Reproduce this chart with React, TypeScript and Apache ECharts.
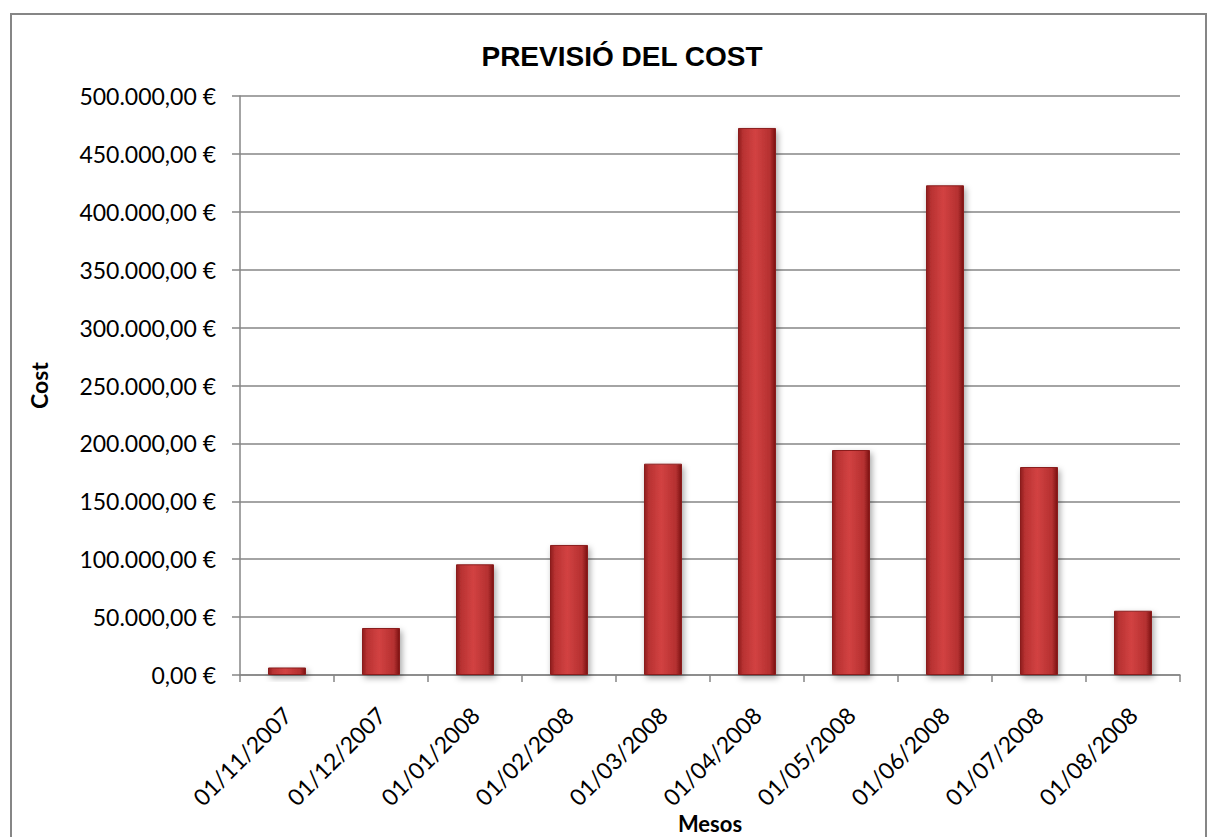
import React, { useEffect, useRef } from "react";
import * as echarts from "echarts";

const categories = [
  "01/11/2007",
  "01/12/2007",
  "01/01/2008",
  "01/02/2008",
  "01/03/2008",
  "01/04/2008",
  "01/05/2008",
  "01/06/2008",
  "01/07/2008",
  "01/08/2008",
];
const costValues = [6500, 40600, 95600, 112300, 182500, 472400, 194300, 422900, 179600, 55500];
const titleText = "PREVISIÓ DEL COST";
const yAxisName = "Cost";
const xAxisName = "Mesos";

function formatEuro(v: number): string {
  const fixed = v.toFixed(2);
  const [intPart, dec] = fixed.split(".");
  const withDots = intPart.replace(/\B(?=(\d{3})+(?!\d))/g, ".");
  return withDots + "," + dec + " €";
}

export default function App() {
  const ref = useRef<HTMLDivElement>(null);
  useEffect(() => {
    document.body.style.margin = "0";
    if (!ref.current) return;
    const chart = echarts.init(ref.current, null, { renderer: "svg" });
    const labelFont = "Lato, 'Open Sans', sans-serif";
    chart.setOption({
      animation: false,
      backgroundColor: "#ffffff",
      title: {
        text: titleText,
        left: 617,
        top: 37,
        textAlign: "center",
        textStyle: {
          fontFamily: "'Liberation Sans', Arial, sans-serif",
          fontWeight: "bold",
          fontSize: 28,
          color: "#000",
        },
      },
      graphic: [
        {
          type: "rect",
          shape: { x: 11, y: 14, width: 1195, height: 900 },
          style: { fill: "none", stroke: "#868686", lineWidth: 2 },
          silent: true,
        },
      ],
      grid: { left: 240, right: 28, top: 96, bottom: 162, outerBoundsMode: "none", containLabel: false },
      xAxis: {
        type: "category",
        data: categories,
        name: xAxisName,
        nameLocation: "middle",
        nameGap: 148,
        nameMoveOverlap: false,
        nameTextStyle: {
          fontFamily: labelFont,
          fontWeight: "bold",
          fontSize: 22,
          lineHeight: 22,
          verticalAlign: "middle",
          color: "#000",
        },
        axisLine: { show: true, lineStyle: { color: "#868686", width: 1.5 } },
        axisTick: { show: true, length: 7, alignWithLabel: false, lineStyle: { color: "#868686", width: 1.5 } },
        axisLabel: {
          rotate: 45,
          margin: 36,
          fontFamily: labelFont,
          fontSize: 23,
          color: "#000",
        },
      },
      yAxis: {
        type: "value",
        min: 0,
        max: 500000,
        interval: 50000,
        name: yAxisName,
        nameLocation: "middle",
        nameRotate: 90,
        nameGap: 190,
        nameMoveOverlap: false,
        nameTextStyle: {
          fontFamily: labelFont,
          fontWeight: "bold",
          fontSize: 23,
          color: "#000",
        },
        axisLine: { show: true, lineStyle: { color: "#868686", width: 1.5 } },
        axisTick: { show: true, inside: false, length: 8, lineStyle: { color: "#868686", width: 1.5 } },
        splitLine: { show: true, lineStyle: { color: "#868686", width: 1.5 } },
        axisLabel: {
          margin: 24,
          fontFamily: labelFont,
          fontSize: 23,
          color: "#000",
          formatter: (v: number) => formatEuro(v),
        },
      },
      series: [
        {
          type: "bar",
          data: costValues,
          barWidth: 38,
          itemStyle: {
            color: new echarts.graphic.LinearGradient(0, 0, 1, 0, [
              { offset: 0, color: "#8e1c1c" },
              { offset: 0.12, color: "#b83232" },
              { offset: 0.45, color: "#d24242" },
              { offset: 0.85, color: "#b53030" },
              { offset: 1, color: "#7a1414" },
            ]),
            borderColor: "#8a1f1f",
            borderWidth: 1,
            shadowColor: "rgba(0,0,0,0.35)",
            shadowBlur: 6,
            shadowOffsetX: 2,
            shadowOffsetY: 3,
          },
        },
      ],
    });
    return () => chart.dispose();
  }, []);
  return (
    <div
      ref={ref}
      style={{ position: "absolute", left: 0, top: 0, width: 1208, height: 837 }}
    />
  );
}
